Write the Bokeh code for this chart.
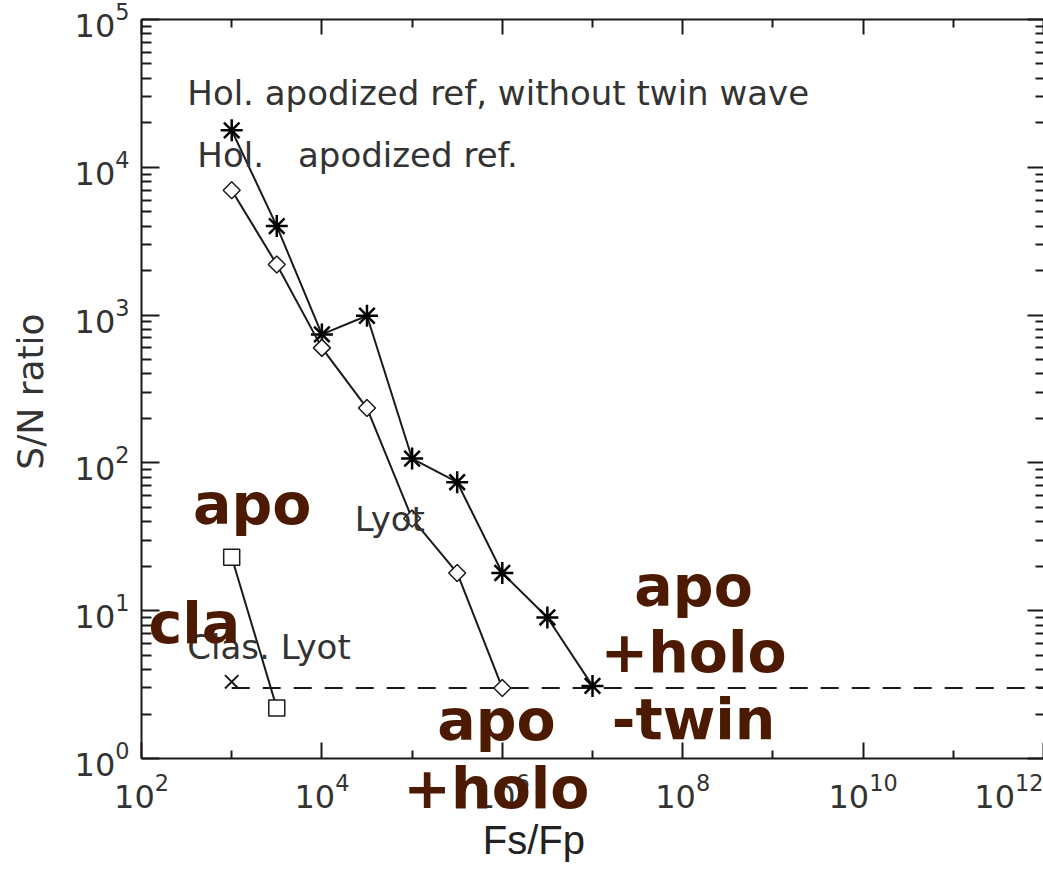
import numpy as np
from bokeh.plotting import figure
from bokeh.models import Label, FixedTicker, LogAxis, ColumnDataSource
from bokeh.core.properties import value
from bokeh.embed import file_html
from bokeh.resources import INLINE

# ---------------- data ----------------
fsfp_holo = [1e3, 3.16e3, 1e4, 3.16e4, 1e5, 3.16e5, 1e6]
sn_holo = [7000, 2200, 600, 235, 42, 18, 3.0]

fsfp_twin = [1e3, 3.16e3, 1e4, 3.16e4, 1e5, 3.16e5, 1e6, 3.16e6, 1e7]
sn_twin = [17800, 4000, 740, 990, 107, 74, 18, 9.0, 3.1]

fsfp_apod_lyot = [1e3, 3.16e3]
sn_apod_lyot = [23, 2.2]

fsfp_clas_lyot = [1e3]
sn_clas_lyot = [3.3]

limit_fsfp = [1e3, 1e12]
limit_sn = [3, 3]

x_major = [1e2, 1e4, 1e6, 1e8, 1e10, 1e12]
x_minor = [1e3, 1e5, 1e7, 1e9, 1e11]
y_major = [1e0, 1e1, 1e2, 1e3, 1e4, 1e5]
y_minor = [m * 10.0 ** k for k in range(0, 5) for m in range(2, 10)]

# in-plot captions (text, anchor x, anchor y)
caption_text = ["Hol. apodized ref, without twin wave", "Hol.", "apodized ref.", "Lyot", "Clas. Lyot"]
caption_x = [322, 416, 5433, 23170, 322]
caption_y = [32000, 12200, 12200, 41.5, 5.64]

# overlaid brown labels (text, centre x, anchor y)
brown_text = ["apo", "cla", "apo", "+holo", "-twin", "apo", "+holo"]
brown_x = [1685, 385, 1.32e8, 1.32e8, 1.32e8, 8.6e5, 8.6e5]
brown_y = [53, 8.2, 14.75, 5.22, 1.84, 1.81, 0.636]

# ---------------- figure ----------------
INK = "#1a1a1a"
THIN = "#333333"
BROWN = "#4c1a00"

# the data frame covers the whole page; the box axes are pinned at the data limits
x_min, x_max = 1e2, 1e12
y_min, y_max = 1e0, 1e5
px_per_dec_x = (1043 - 141) / 10.0
px_per_dec_y = (758 - 19) / 5.0
x_view = (10 ** (2 - 141 / px_per_dec_x), x_max)
y_view = (10 ** (-(871 - 758) / px_per_dec_y), 10 ** (5 + 19 / px_per_dec_y))

p = figure(width=1043, height=871, x_axis_type="log", y_axis_type="log",
           x_range=x_view, y_range=y_view, min_border=0,
           output_backend="svg", toolbar_location=None)
p.outline_line_color = None
p.grid.visible = False
p.background_fill_color = "white"
p.border_fill_color = "white"

xa = p.xaxis[0]
xa.ticker = FixedTicker(ticks=x_major, minor_ticks=x_minor)
xa.fixed_location = y_min
xa.bounds = (x_min, x_max)
ya = p.yaxis[0]
ya.ticker = FixedTicker(ticks=y_major, minor_ticks=y_minor)
ya.fixed_location = x_min
ya.bounds = (y_min, y_max)

for ax in (xa, ya):
    ax.axis_line_width = 2
    ax.axis_line_color = INK
    ax.major_tick_line_width = 2
    ax.minor_tick_line_width = 2
    ax.major_tick_line_color = INK
    ax.minor_tick_line_color = INK
    ax.major_tick_out = 0
    ax.minor_tick_out = 0
    ax.major_label_text_font = "DejaVu Sans"
    ax.major_label_text_font_size = "32px"
    ax.major_label_text_color = THIN

xa.major_tick_in = 16
xa.minor_tick_in = 8
xa.major_label_standoff = 14
ya.major_tick_in = 18
ya.minor_tick_in = 10
ya.major_label_standoff = 12

top = LogAxis(ticker=FixedTicker(ticks=x_major, minor_ticks=x_minor),
              fixed_location=y_max, bounds=(x_min, x_max),
              axis_line_width=2, axis_line_color=INK,
              major_tick_line_width=2, minor_tick_line_width=2,
              major_tick_line_color=INK, minor_tick_line_color=INK,
              major_tick_in=15, major_tick_out=0, minor_tick_in=8, minor_tick_out=0,
              major_label_text_font_size="1px", major_label_text_color=None,
              major_label_standoff=0)
p.add_layout(top, "above")

right = LogAxis(ticker=FixedTicker(ticks=y_major, minor_ticks=y_minor),
                fixed_location=x_max, bounds=(y_min, y_max),
                axis_line_color=None,
                major_tick_line_width=2, minor_tick_line_width=2,
                major_tick_line_color=INK, minor_tick_line_color=INK,
                major_tick_in=16, major_tick_out=0, minor_tick_in=8, minor_tick_out=0,
                major_label_text_font_size="1px", major_label_text_color=None,
                major_label_standoff=0)
p.add_layout(right, "right")

# detection limit
p.line(limit_fsfp, limit_sn, line_color=INK, line_width=2, line_dash="18 13")

# series
p.line(fsfp_twin, sn_twin, line_color=INK, line_width=2)
p.scatter(fsfp_twin, sn_twin, marker="asterisk", size=22, line_color="black", line_width=2.5)

p.line(fsfp_holo, sn_holo, line_color=INK, line_width=2)
p.scatter(fsfp_holo, sn_holo, marker="square", size=12, angle=np.pi / 4, line_color=INK,
          fill_color="white", line_width=1.5)

p.line(fsfp_apod_lyot, sn_apod_lyot, line_color=INK, line_width=2)
p.scatter(fsfp_apod_lyot, sn_apod_lyot, marker="square", size=16, line_color=INK,
          fill_color="white", line_width=1.5)

p.scatter(fsfp_clas_lyot, sn_clas_lyot, marker="x", size=19, line_color=INK, line_width=2)

# captions
cap_src = ColumnDataSource(dict(x=caption_x, y=caption_y, t=caption_text))
p.text(x="x", y="y", text="t", source=cap_src, text_font=value("DejaVu Sans"),
       text_font_size="34px", text_color=THIN, text_baseline="alphabetic",
       text_align="left")

# axis titles
p.add_layout(Label(x=5.9, y=304, text="S/N ratio", angle=90, angle_units="deg",
                   text_font="DejaVu Sans", text_font_size="36px", text_color=THIN,
                   text_align="center", text_baseline="middle"))
p.add_layout(Label(x=2.24e6, y=0.279, text="Fs/Fp",
                   text_font="Liberation Sans", text_font_size="40px", text_color="#222222",
                   text_align="center", text_baseline="alphabetic"))

# brown overlay labels
for t, x, y in zip(brown_text, brown_x, brown_y):
    p.add_layout(Label(x=x, y=y, text=t, text_font="DejaVu Sans", text_font_style="bold",
                       text_font_size="57px", text_color=BROWN, text_align="center",
                       text_baseline="alphabetic"))

open("out.html", "w").write(file_html(p, INLINE))
